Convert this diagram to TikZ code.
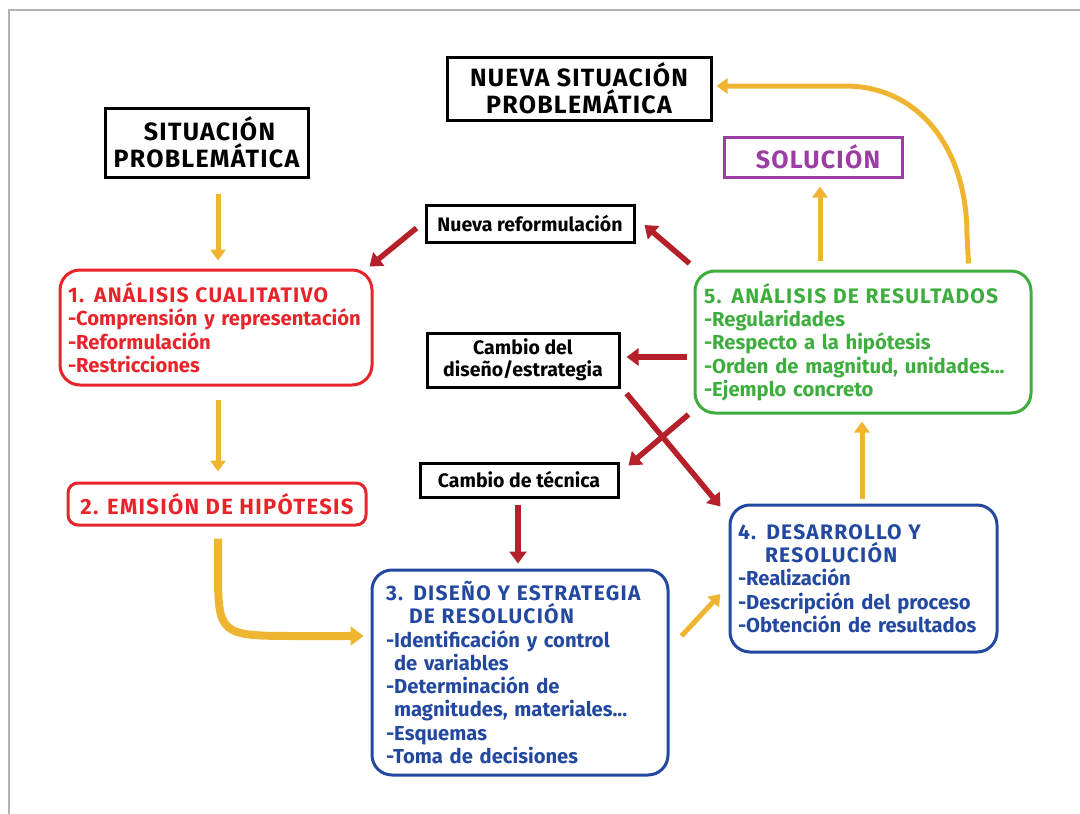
\documentclass[tikz,border=0pt]{standalone}
\usepackage{fontspec}
\setmainfont{Fira Sans}
\usetikzlibrary{arrows.meta,calc}
\hyphenpenalty=10000
\exhyphenpenalty=10000

\definecolor{arrowyellow}{HTML}{F0B530}
\definecolor{arrowred}{HTML}{B5202A}
\definecolor{stagered}{HTML}{E8242A}
\definecolor{stageblue}{HTML}{2348A0}
\definecolor{stagegreen}{HTML}{3DAE3D}
\definecolor{stagepurple}{HTML}{9B3DA3}

% stage titles are set a bit larger and spaced out
\newcommand{\stagetitle}[1]{{\fontsize{21}{23.3}\selectfont\addfontfeature{LetterSpace=6}#1}}

\tikzset{
  plainbox/.style={draw=black, line width=3pt, fill=white, align=center, inner sep=0pt,
    font=\bfseries\fontsize{25}{27}\selectfont\addfontfeature{LetterSpace=5}},
  smallbox/.style={draw=black, line width=3pt, fill=white, align=center, inner sep=0pt,
    font=\bfseries\fontsize{19.5}{22.5}\selectfont},
  stagebox/.style={rounded corners=20pt, line width=3pt, align=left, inner sep=0pt,
    font=\bfseries\fontsize{20.2}{23.3}\selectfont},
  yarrow/.style={draw=arrowyellow, line width=5pt, -{Triangle[length=11pt,width=15pt]}},
  rarrow/.style={draw=arrowred, line width=5.5pt, -{Triangle[length=12pt,width=17pt]}}
}

\begin{document}
\begin{tikzpicture}[x=1pt, y=-1pt]
  \useasboundingbox (0,0) rectangle (1080,814);
  % page frame
  \draw[gray!60, line width=1.5pt] (9,814) -- (9,10) -- (1080,10);

  % start and end boxes
  \node[plainbox, minimum width=203pt, minimum height=69pt] (sit) at (206.5,142.5)
    {\hspace*{6pt}SITUACIÓN\\PROBLEMÁTICA};
  \node[plainbox, minimum width=264pt, minimum height=63pt] (nueva) at (579,88.5)
    {NUEVA SITUACIÓN\\PROBLEMÁTICA};
  \node[plainbox, draw=stagepurple, text=stagepurple, minimum width=178pt, minimum height=40pt]
    (sol) at (813,157) {\hspace*{10pt}SOLUCIÓN};

  % feedback boxes
  \node[smallbox, minimum width=208pt, minimum height=37pt] (ref) at (530,223.5)
    {Nueva reformulación};
  \node[smallbox, minimum width=192pt, minimum height=54pt] (dis) at (523,360)
    {Cambio del\\diseño/estrategia};
  \node[smallbox, minimum width=198pt, minimum height=34pt] (tec) at (519,480)
    {Cambio de técnica};

  % Stage 1
  \node[stagebox, draw=stagered, text=stagered, minimum width=312pt, minimum height=115pt,
    text width=296pt] (b1) at (216,327.5)
    {\stagetitle{1. ANÁLISIS CUALITATIVO}\\
     -Comprensión y representación\\
     -Reformulación\\
     -Restricciones};

  % Stage 2
  \node[stagebox, draw=stagered, text=stagered, minimum width=298pt, minimum height=42pt,
    align=center, rounded corners=10pt,
    font=\bfseries\fontsize{22}{24}\selectfont\addfontfeature{LetterSpace=6}] (b2) at (217,504)
    {2. EMISIÓN DE HIPÓTESIS};

  % Stage 3
  \node[stagebox, draw=stageblue, text=stageblue, minimum width=296pt, minimum height=205pt,
    text width=268pt] (b3) at (520,672.5)
    {\stagetitle{3. DISEÑO Y ESTRATEGIA}\\
     \hspace*{23pt}\stagetitle{DE RESOLUCIÓN}\\
     -Identificación y control\\
     \hspace*{8pt}de variables\\
     -Determinación de\\
     \hspace*{8pt}magnitudes, materiales...\\
     -Esquemas\\
     -Toma de decisiones};

  % Stage 4
  \node[stagebox, draw=stageblue, text=stageblue, minimum width=267pt, minimum height=147pt,
    text width=251pt] (b4) at (863.5,578.5)
    {\stagetitle{4. DESARROLLO Y}\\
     \hspace*{27pt}\stagetitle{RESOLUCIÓN}\\
     -Realización\\
     -Descripción del proceso\\
     -Obtención de resultados};

  % Stage 5
  \node[stagebox, draw=stagegreen, text=stagegreen, minimum width=336pt, minimum height=142pt,
    text width=318pt] (b5) at (863,342)
    {\stagetitle{5. ANÁLISIS DE RESULTADOS}\\
     -Regularidades\\
     -Respecto a la hipótesis\\
     -Orden de magnitud, unidades...\\
     -Ejemplo concreto};

  % main sequence
  \draw[yarrow] ($(sit.south)+(11.5,15)$) -- ($(b1.north)+(2,-8)$);
  \draw[yarrow] ($(b1.south)+(2,13)$) -- ($(b2.north)+(1,-10)$);
  \draw[yarrow, line width=8pt, -{Triangle[length=13pt,width=19pt]}]
    ($(b2.south)+(1,12)$) -- (218,565) .. controls (218,636) .. (300,636)
    -- ($(b3.west)+(-7,-36.5)$);
  \draw[yarrow] ($(b3.east)+(12,-36.5)$) -- ($(b4.west)+(-8,15.5)$);
  \draw[yarrow] ($(b4.north)+(-1.5,-5)$) -- ($(b5.south)+(-1,7)$);
  \draw[yarrow] ($(b5.north)+(-43,-9)$) -- ($(sol.south)+(7,8)$);
  \draw[yarrow] ($(b5.north east)+(-64,-6)$) -- (967,235)
    .. controls (967,150) and (920,86) .. (845,86)
    -- ($(nueva.east)+(4,-2.5)$);

  % feedback
  \draw[rarrow] ($(ref.west)+(-8,4.5)$) -- ($(b1.north east)+(-4,-2)$);
  \draw[rarrow] ($(b5.north west)+(-4,-6)$) -- ($(ref.east)+(9,1.5)$);
  \draw[rarrow] ($(b5.west)+(-7,15)$) -- ($(dis.east)+(6,-3)$);
  \draw[rarrow] ($(dis.south east)+(6,5)$) -- ($(b4.north west)+(-8,3)$);
  \draw[rarrow] ($(b5.south west)+(-5,0)$) -- ($(tec.north east)+(9,4)$);
  \draw[rarrow] ($(tec.south)+(-1,6)$) -- ($(b3.north)+(-2,-5)$);
\end{tikzpicture}
\end{document}
